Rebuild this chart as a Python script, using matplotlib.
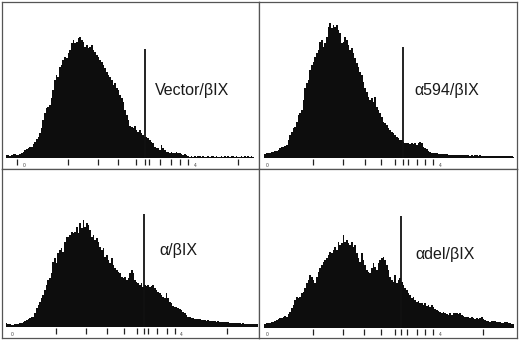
import numpy as np
import matplotlib
matplotlib.use("Agg")
import matplotlib.pyplot as plt

W, H = 520, 341

labels = ["Vector/βIX", "α594/βIX", "α/βIX", "αdel/βIX"]

counts_vector = [10, 9, 7, 10, 12, 13, 9, 10, 13, 15, 20, 25, 27, 30, 33, 35, 43, 50, 57, 65,
                 75, 90, 115, 135, 150, 155, 160, 180, 205, 235, 250, 245, 275, 280, 295, 305,
                 300, 315, 325, 345, 355, 345, 350, 360, 365, 355, 350, 335, 340, 330, 335, 340,
                 325, 320, 310, 305, 295, 290, 280, 270, 260, 250, 245, 235, 220, 225, 210, 205,
                 190, 180, 170, 145, 130, 115, 97, 95, 90, 97, 85, 80, 85, 75, 70, 65, 65, 60,
                 55, 50, 45, 35, 30, 30, 25, 40, 30, 25, 20, 20, 17, 20, 17, 15, 18, 15, 15, 13,
                 10, 12, 10, 7, 5, 6, 5, 7, 5, 6, 6, 5, 7, 5, 5, 6, 5, 7, 6, 5, 6, 5, 4, 6, 5,
                 7, 5, 6, 5, 7, 6, 5, 6, 5, 5, 6, 5, 6, 5, 6, 5, 6, 5]

counts_a594 = [13, 17, 16, 15, 18, 20, 21, 23, 26, 30, 33, 35, 38, 40, 55, 70, 80, 90, 95, 110,
               130, 135, 145, 175, 210, 225, 235, 265, 280, 290, 305, 315, 325, 350, 355, 335,
               345, 365, 395, 405, 390, 400, 395, 400, 385, 375, 345, 350, 365, 355, 340, 325,
               330, 315, 300, 285, 275, 260, 250, 230, 210, 200, 185, 175, 180, 170, 185, 155,
               145, 135, 125, 110, 105, 100, 90, 85, 80, 77, 70, 63, 60, 55, 55, 50, 47, 45, 47,
               43, 45, 43, 45, 40, 45, 50, 45, 35, 30, 27, 23, 20, 17, 15, 16, 15, 14, 13, 13,
               12, 13, 12, 11, 10, 11, 11, 10, 11, 10, 10, 9, 10, 9, 9, 10, 8, 9, 8, 9, 9, 8, 9,
               8, 8, 7, 7, 8, 7, 7, 7, 8, 7, 6, 6, 7, 7, 6, 7, 6, 7, 6, 5]

counts_alpha = [12, 11, 10, 8, 7, 9, 10, 11, 12, 14, 17, 20, 22, 25, 27, 30, 32, 42, 57, 67,
                77, 87, 97, 112, 127, 142, 147, 162, 197, 207, 192, 222, 232, 237, 227, 257,
                272, 272, 277, 287, 282, 287, 302, 282, 312, 297, 322, 302, 312, 307, 292, 272,
                277, 262, 267, 257, 242, 232, 237, 212, 217, 202, 192, 207, 187, 177, 172, 167,
                162, 152, 147, 152, 142, 147, 162, 172, 162, 142, 137, 132, 127, 132, 122, 127,
                124, 127, 122, 124, 127, 117, 112, 107, 102, 97, 92, 87, 102, 87, 77, 72, 64,
                62, 60, 57, 54, 52, 47, 42, 37, 32, 30, 29, 27, 26, 25, 26, 24, 23, 22, 21, 20,
                21, 19, 20, 20, 18, 17, 18, 17, 16, 15, 16, 17, 15, 14, 13, 12, 13, 14, 12, 12,
                11, 12, 11, 10, 11, 10, 9, 10, 10, 9]

counts_adel = [13, 17, 16, 15, 18, 20, 22, 25, 28, 30, 32, 35, 36, 35, 42, 50, 60, 70, 85, 95,
               90, 95, 105, 110, 120, 135, 145, 160, 155, 145, 135, 155, 170, 180, 190, 200,
               205, 210, 220, 230, 225, 235, 245, 235, 260, 250, 255, 280, 260, 265, 255, 250,
               260, 245, 250, 225, 210, 200, 225, 205, 190, 175, 170, 165, 180, 195, 185, 175,
               195, 205, 210, 215, 205, 190, 175, 155, 145, 140, 160, 135, 145, 150, 140, 130,
               120, 115, 105, 100, 90, 95, 85, 80, 83, 75, 77, 70, 75, 67, 70, 65, 70, 63, 57,
               55, 53, 50, 47, 50, 45, 43, 40, 45, 40, 47, 45, 47, 43, 45, 40, 37, 35, 33, 35,
               30, 33, 30, 27, 30, 27, 30, 35, 27, 25, 23, 22, 20, 21, 22, 21, 20, 19, 18, 17,
               17, 18, 20, 17, 15, 14, 13]

series = [counts_vector, counts_a594, counts_alpha, counts_adel]

gate_channel = [83.0, 82.6, 82.6, 81.8]
gate_height = [327, 335, 339, 337]

ticks_vector = [6.4, 37, 55, 67, 77.6, 83, 85.4, 92, 98.4, 104, 109, 139]
ticks_a594 = [28.6, 46.6, 60, 69.4, 78, 82.6, 86, 91, 96, 101]
ticks_alpha = [29.6, 47.6, 60.4, 70.4, 78, 82.6, 85, 90, 96, 101, 132]
ticks_adel = [29, 47, 59.4, 69.4, 78, 81.8, 85, 91, 96, 101, 131]
tick_sets = [ticks_vector, ticks_a594, ticks_alpha, ticks_adel]

decade_lo = [10.4, 1.4, 3.0, 1.4]
decade_hi = [113, 105, 105, 105]

# layout (pixels)
boxes = [(2, 259, 2, 169), (259, 517, 2, 169), (2, 259, 169, 338), (259, 517, 169, 338)]
origins = [(0, 0), (260, 0), (0, 170), (260, 170)]
starts = [20, 15, 20, 15]
baselines = [158.3, 158.3, 327.3, 328.3]
label_pos = [(155, 91), (414, 91), (159, 251), (415, 254)]

plt.rcParams['font.family'] = ['Liberation Sans', 'DejaVu Sans']
fig = plt.figure(figsize=(W / 100, H / 100), dpi=100)
fig.patch.set_facecolor('white')

for k in range(4):
    x0, x1, y0, y1 = boxes[k]
    ox, oy = origins[k]
    s = starts[k]
    b = baselines[k]
    ax = fig.add_axes([x0 / W, 1 - y1 / H, (x1 - x0) / W, (y1 - y0) / H])
    counts = np.asarray(series[k], dtype=float)
    n = len(counts)
    edges = np.arange(n + 1) - 0.5
    ax.stairs(counts, edges, fill=True, color='#0d0d0d', linewidth=0)
    ylo = (b - y1) * 3
    ax.set_xlim(((x0 - ox) * 3 - s) / 5, ((x1 - ox) * 3 - s) / 5)
    ax.set_ylim(ylo, (b - y0) * 3)
    ax.vlines(gate_channel[k], 0, gate_height[k], color='#111111', linewidth=1.3)
    ax.vlines(tick_sets[k], -2, -20, color='#222222', linewidth=0.9)
    ax.text(decade_lo[k], ylo + 2, "0", fontsize=3.5, color='#444444', ha='center', va='bottom')
    ax.text(decade_hi[k], ylo + 2, "4", fontsize=3.5, color='#444444', ha='center', va='bottom')
    ax.set_xticks([])
    ax.set_yticks([])
    for sp in ax.spines.values():
        sp.set_color('#555555')
        sp.set_linewidth(0.9)
    lx, ly = label_pos[k]
    fig.text(lx / W, 1 - ly / H, labels[k], fontsize=11.5, color='#1a1a1a', ha='left', va='center')

fig.savefig('out.png', dpi=100, facecolor='white')
